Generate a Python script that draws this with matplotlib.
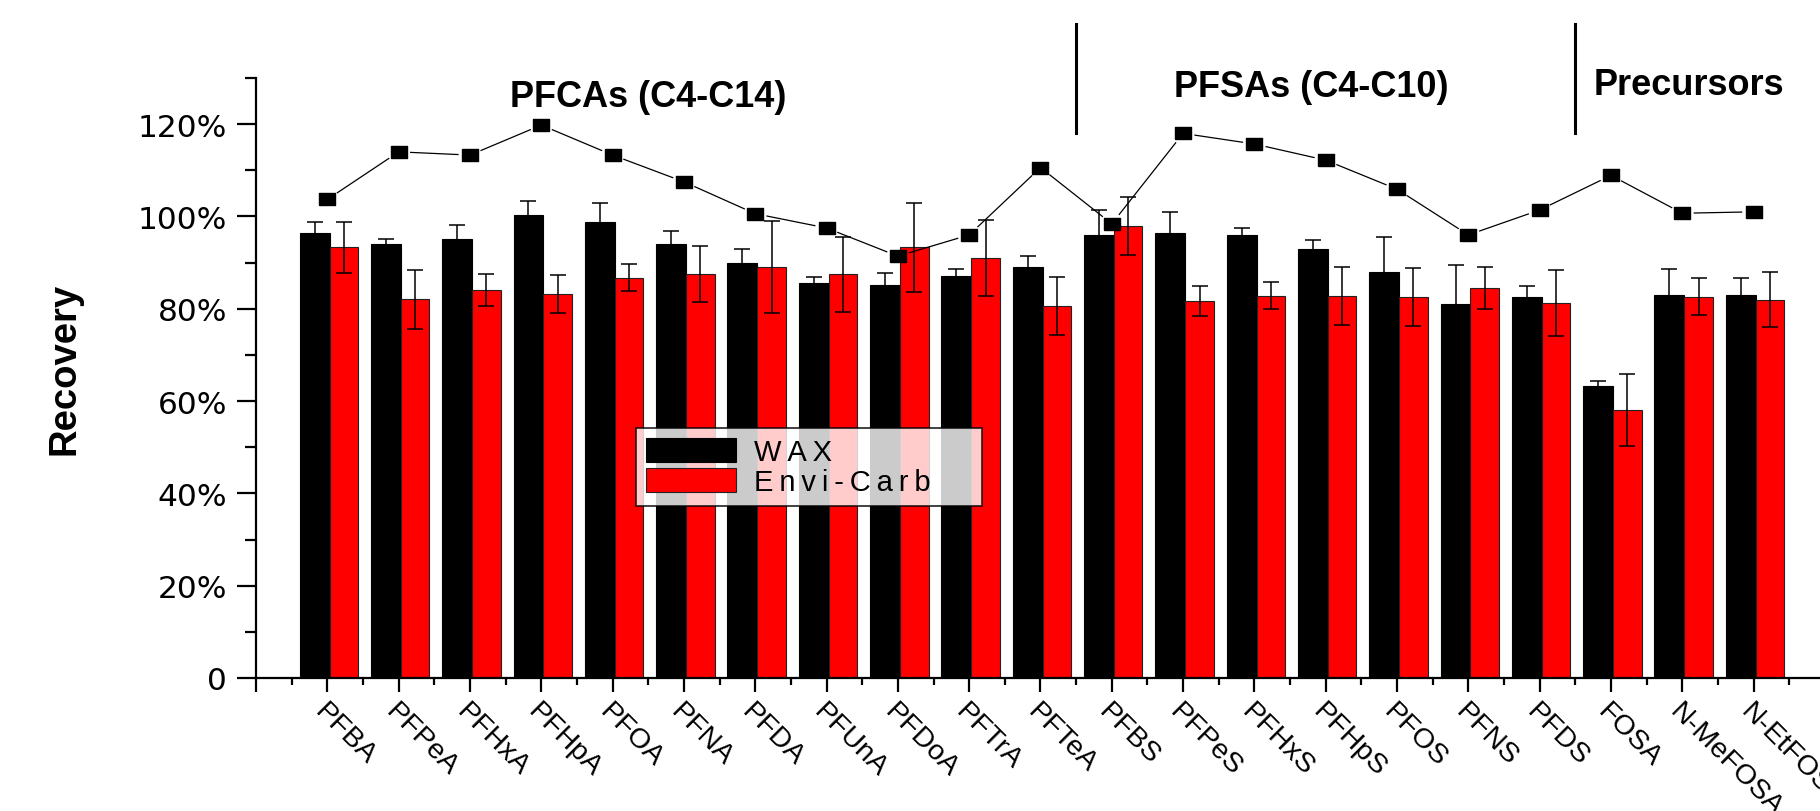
import numpy as np
import matplotlib
matplotlib.use("Agg")
import matplotlib.pyplot as plt
from matplotlib.ticker import FixedLocator
from matplotlib.transforms import ScaledTranslation

plt.rcParams['font.family'] = ['Liberation Sans', 'DejaVu Sans']

categories = ['PFBA', 'PFPeA', 'PFHxA', 'PFHpA', 'PFOA', 'PFNA', 'PFDA', 'PFUnA', 'PFDoA',
              'PFTrA', 'PFTeA', 'PFBS', 'PFPeS', 'PFHxS', 'PFHpS', 'PFOS', 'PFNS', 'PFDS',
              'FOSA', 'N-MeFOSA', 'N-EtFOSA']
wax = [96.4, 94.1, 95.2, 100.3, 98.7, 94.1, 89.9, 85.6, 85.2, 87.1, 89.1,
       96.0, 96.4, 96.0, 93.0, 88.0, 81.0, 82.6, 63.3, 82.9, 82.9]
wax_err = [2.3, 1.1, 3.0, 3.0, 4.2, 2.7, 3.0, 1.2, 2.6, 1.5, 2.3,
           5.5, 4.6, 1.5, 1.9, 7.5, 8.4, 2.3, 1.0, 5.8, 3.8]
envi = [93.3, 82.1, 84.0, 83.2, 86.7, 87.5, 89.1, 87.5, 93.3, 91.0, 80.6,
        97.9, 81.7, 82.8, 82.8, 82.6, 84.5, 81.3, 58.1, 82.6, 82.0]
envi_err = [5.6, 6.4, 3.5, 4.1, 2.9, 6.1, 10.0, 8.1, 9.7, 8.3, 6.2,
            6.3, 3.3, 2.9, 6.3, 6.3, 4.6, 7.1, 7.8, 4.0, 5.9]
ratio = [103.7, 114.0, 113.3, 119.8, 113.3, 107.5, 100.6, 97.5, 91.4, 96.0, 110.6,
         98.4, 118.0, 115.7, 112.2, 105.9, 96.0, 101.4, 108.9, 100.7, 101.0]
groups = ['PFCAs (C4-C14)', 'PFSAs (C4-C10)', 'Precursors']
ytick_text = ['0', '20%', '40%', '60%', '80%', '100%', '120%']

x = np.arange(1, len(categories) + 1)

fig = plt.figure(figsize=(18.2, 8.12), dpi=100)
ax = fig.add_axes([0.1407, 0.1638, 0.862, 0.7389])
ax.set_xlim(0, 22)
ax.set_ylim(0, 130)

ax.bar(x - 0.39, wax, width=0.42, align='edge', color='black', edgecolor='black',
       linewidth=0.8, label='W\u2009A\u2009X', zorder=2)
ax.bar(x + 0.03, envi, width=0.40, align='edge', color='#ff0000', edgecolor='#222222',
       linewidth=0.8, label='E\u2009n\u2009v\u2009i\u2009-\u2009C\u2009a\u2009r\u2009b', zorder=2)
ax.errorbar(x - 0.18, wax, yerr=wax_err, fmt='none', ecolor='black', elinewidth=1.1,
            capsize=6, capthick=1.1, zorder=3)
ax.errorbar(x + 0.23, envi, yerr=envi_err, fmt='none', ecolor='black', elinewidth=1.1,
            capsize=6, capthick=1.1, zorder=3)

# connecting line with a small gap next to each marker (Origin style)
pts = ax.transData.transform(np.column_stack([x, ratio]))
gap = 12
for p0, p1 in zip(pts[:-1], pts[1:]):
    d = p1 - p0
    u = d / np.hypot(*d)
    seg = ax.transData.inverted().transform([p0 + u * gap, p1 - u * gap])
    ax.plot(seg[:, 0], seg[:, 1], color='black', linewidth=0.9, zorder=4)
rect = [(-1.45, -1), (1.45, -1), (1.45, 1), (-1.45, 1), (-1.45, -1)]
ax.plot(x, ratio, linestyle='none', marker=rect, markersize=12,
        markerfacecolor='black', markeredgecolor='black', zorder=4)

ax.spines['top'].set_visible(False)
ax.spines['right'].set_visible(False)
ax.spines['left'].set_linewidth(1.6)
ax.spines['bottom'].set_linewidth(1.6)

ax.xaxis.set_major_locator(FixedLocator(range(0, 23)))
ax.set_xticklabels([''] + categories + [''], rotation=-45, ha='left', va='top',
                   rotation_mode='anchor', fontsize=20.5)
shift = ScaledTranslation(-9.5 / 100, 0, fig.dpi_scale_trans)
for lab in ax.get_xticklabels():
    lab.set_transform(lab.get_transform() + shift)
ax.xaxis.set_minor_locator(FixedLocator(np.arange(0.5, 22, 1)))
ax.set_yticks(range(0, 121, 20))
ax.set_yticklabels(ytick_text, fontsize=22.5, family='DejaVu Sans')
ax.yaxis.set_minor_locator(FixedLocator(range(10, 131, 20)))
ax.tick_params(axis='x', which='major', length=10, width=1.6, pad=4.1)
ax.tick_params(axis='x', which='minor', length=5, width=1.6)
ax.tick_params(axis='y', which='major', length=13.5, width=1.6, pad=7.5)
ax.tick_params(axis='y', which='minor', length=8, width=1.6)

ax.set_ylabel('Recovery', fontsize=27.5, fontweight='bold')
ax.yaxis.set_label_coords(-0.1106, 0.517)

ax.text(5.5, 124.0, groups[0], ha='center', va='baseline', fontsize=26,
        fontweight='bold', clip_on=False)
ax.text(14.8, 126.2, groups[1], ha='center', va='baseline', fontsize=26,
        fontweight='bold', clip_on=False)
ax.text(20.1, 126.6, groups[2], ha='center', va='baseline', fontsize=26,
        fontweight='bold', clip_on=False)
for xs in (11.5, 18.5):
    ax.plot([xs, xs], [118, 141.6], color='black', linewidth=2.2, clip_on=False)

leg = ax.legend(loc='upper left', bbox_to_anchor=(0.2423, 0.2867, 0.2206, 0.13),
                mode='expand', borderaxespad=0, fontsize=21, frameon=True,
                fancybox=False, edgecolor='black', handlelength=3.1,
                handleheight=0.9, labelspacing=0.08, handletextpad=0.6,
                borderpad=0.33)
leg.get_frame().set_linewidth(1.3)

fig.savefig('out.png', dpi=100)
